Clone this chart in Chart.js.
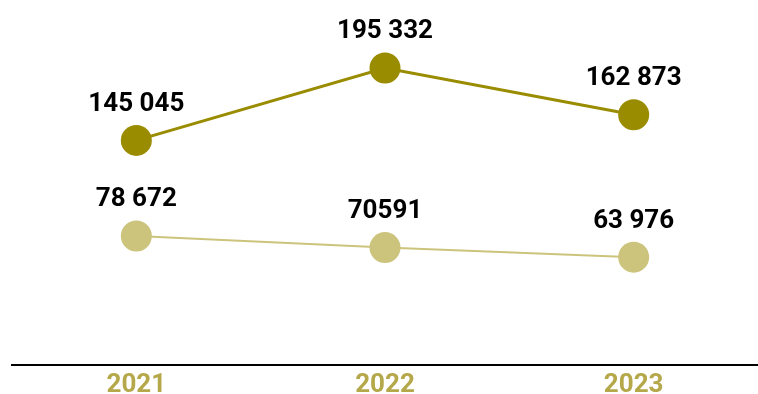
<!DOCTYPE html>
<html>
<head>
<meta charset="utf-8">
<script src="https://cdn.jsdelivr.net/npm/chart.js@4"></script>
<style>
  html, body { margin: 0; padding: 0; background: #fff; }
  #wrap { width: 758px; height: 394px; }
</style>
</head>
<body>
<div id="wrap"><canvas id="lineChart"></canvas></div>
<script>
const years = ["2021", "2022", "2023"];
const topValues = [145045, 195332, 162873];
const topLabels = ["145 045", "195 332", "162 873"];
const lowValues = [78672, 70591, 63976];
const lowLabels = ["78 672", "70591", "63 976"];

const darkOlive = "#9a8c00";
const lightOlive = "#ccc47c";

/* value labels above each point */
const pointLabels = {
  id: "pointLabels",
  afterDatasetsDraw(chart) {
    const ctx = chart.ctx;
    ctx.save();
    ctx.font = "bold 26px Roboto";
    ctx.fillStyle = "#000";
    ctx.textAlign = "center";
    ctx.textBaseline = "middle";
    chart.data.datasets.forEach((ds, i) => {
      chart.getDatasetMeta(i).data.forEach((pt, j) => {
        ctx.fillText(ds.valueLabels[j], pt.x, pt.y - 36);
      });
    });
    ctx.restore();
  }
};

new Chart(document.getElementById("lineChart"), {
  type: "line",
  data: {
    labels: years,
    datasets: [
      {
        data: topValues,
        valueLabels: topLabels,
        borderColor: darkOlive,
        backgroundColor: darkOlive,
        borderWidth: 3,
        pointRadius: 15.5,
        pointHoverRadius: 15.5,
        pointBorderWidth: 0
      },
      {
        data: lowValues,
        valueLabels: lowLabels,
        borderColor: lightOlive,
        backgroundColor: lightOlive,
        borderWidth: 2,
        pointRadius: 15.5,
        pointHoverRadius: 15.5,
        pointBorderWidth: 0
      }
    ]
  },
  options: {
    responsive: true,
    maintainAspectRatio: false,
    animation: false,
    layout: { autoPadding: false, padding: { left: 12, right: 0, top: 0, bottom: 0 } },
    plugins: {
      legend: { display: false },
      tooltip: { enabled: false }
    },
    scales: {
      x: {
        offset: true,
        afterFit: (scale) => { scale.height = 29; },
        grid: { display: false, drawTicks: false },
        border: { display: true, color: "#000", width: 2 },
        ticks: {
          color: "#b5a84a",
          padding: 5,
          font: { family: "Roboto", size: 26, weight: "bold" }
        }
      },
      y: {
        display: false,
        min: -10900,
        max: 242500
      }
    }
  },
  plugins: [pointLabels]
});
</script>
</body>
</html>
